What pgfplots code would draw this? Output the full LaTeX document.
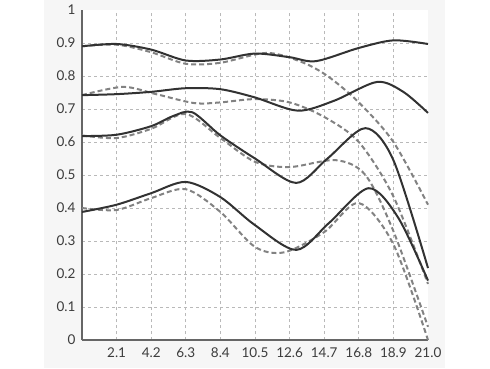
\documentclass[border=0pt]{standalone}
\usepackage{pgfplots}
\pgfplotsset{compat=1.18}
\usepackage{fontspec}
\setmainfont{Lato}
\definecolor{panel}{RGB}{246,246,246}
\definecolor{solidc}{RGB}{50,50,50}
\definecolor{dashc}{RGB}{130,130,130}
\definecolor{gridc}{RGB}{185,185,185}
\definecolor{labc}{RGB}{60,60,60}
\begin{document}
\begin{tikzpicture}[x=1pt,y=1pt]
\fill[white] (0,0) rectangle (490,368);
\fill[panel] (44,0) rectangle (445,368);
\useasboundingbox (0,0) rectangle (490,368);
\begin{axis}[
  at={(82pt,28pt)}, anchor=south west,
  scale only axis, width=346pt, height=330pt,
  xmin=0, xmax=21, ymin=0, ymax=1,
  axis x line=bottom, axis y line=left,
  axis line style={draw=black!60, line width=1.2pt, -},
  axis background/.style={fill=white},
  xtick={2.1,4.2,6.3,8.4,10.5,12.6,14.7,16.8,18.9},
  xticklabels={2.1,4.2,6.3,8.4,10.5,12.6,14.7,16.8,18.9},
  extra x ticks={21}, extra x tick labels={21.0},
  ytick={0,0.1,0.2,0.3,0.4,0.5,0.6,0.7,0.8,0.9},
  yticklabels={0,0.1,0.2,0.3,0.4,0.5,0.6,0.7,0.8,0.9},
  extra y ticks={1}, extra y tick labels={1},
  extra tick style={grid=none},
  grid=major,
  major grid style={draw=gridc, dash pattern=on 3pt off 3pt, line width=0.7pt},
  major tick length=0pt,
  tick label style={font=\fontsize{13.5}{16}\selectfont, color=labc},
  yticklabel style={xshift=-3pt},
  xticklabel style={yshift=-4pt},
  /pgf/number format/assume math mode=true,
  clip=false,
]
% dashed series
\addplot[draw=dashc, line width=2pt, dash pattern=on 5pt off 3pt, smooth] coordinates {
(0,0.89)(2.1,0.895)(4.2,0.872)(6.3,0.837)(8.4,0.84)(11.2,0.87)(13.3,0.843)(14.9,0.80)(16.8,0.72)(18.9,0.6)(21,0.41)};
\addplot[draw=dashc, line width=2pt, dash pattern=on 5pt off 3pt, smooth] coordinates {
(0,0.742)(2.5,0.767)(4.5,0.745)(6.8,0.718)(8.4,0.72)(10.5,0.73)(12.6,0.72)(14.7,0.676)(16.8,0.60)(18.9,0.435)(21,0.17)};
\addplot[draw=dashc, line width=2pt, dash pattern=on 5pt off 3pt, smooth] coordinates {
(0,0.62)(2.1,0.612)(4.2,0.64)(6.3,0.685)(8.4,0.612)(10.5,0.54)(12.6,0.524)(15.4,0.545)(17.2,0.50)(18.9,0.33)(21,0.04)};
\addplot[draw=dashc, line width=2pt, dash pattern=on 5pt off 3pt, smooth] coordinates {
(0,0.40)(2.1,0.394)(4.2,0.43)(6.3,0.457)(8.4,0.388)(10.5,0.282)(12.3,0.266)(14.7,0.327)(16.8,0.415)(18.9,0.29)(21,0.0)};
% solid series
\addplot[draw=solidc, line width=2pt, smooth] coordinates {
(0,0.89)(2.1,0.897)(4.2,0.88)(6.3,0.847)(8.4,0.85)(10.5,0.868)(12.6,0.857)(14.2,0.845)(16.8,0.885)(18.9,0.908)(21,0.897)};
\addplot[draw=solidc, line width=2pt, smooth] coordinates {
(0,0.742)(2.1,0.745)(4.2,0.752)(6.3,0.763)(8.4,0.76)(10.5,0.735)(13.1,0.695)(15.3,0.725)(17.9,0.782)(19.5,0.752)(21,0.688)};
\addplot[draw=solidc, line width=2pt, smooth] coordinates {
(0,0.618)(2.1,0.622)(4.2,0.648)(5.5,0.678)(6.7,0.69)(8.4,0.62)(10.5,0.55)(13.0,0.476)(14.9,0.55)(17.2,0.642)(18.9,0.545)(21,0.218)};
\addplot[draw=solidc, line width=2pt, smooth] coordinates {
(0,0.388)(2.1,0.41)(4.2,0.445)(6.3,0.479)(8.4,0.433)(10.5,0.348)(13.0,0.273)(15.0,0.355)(17.4,0.46)(19.2,0.37)(21,0.18)};
\end{axis}
\end{tikzpicture}
\end{document}
